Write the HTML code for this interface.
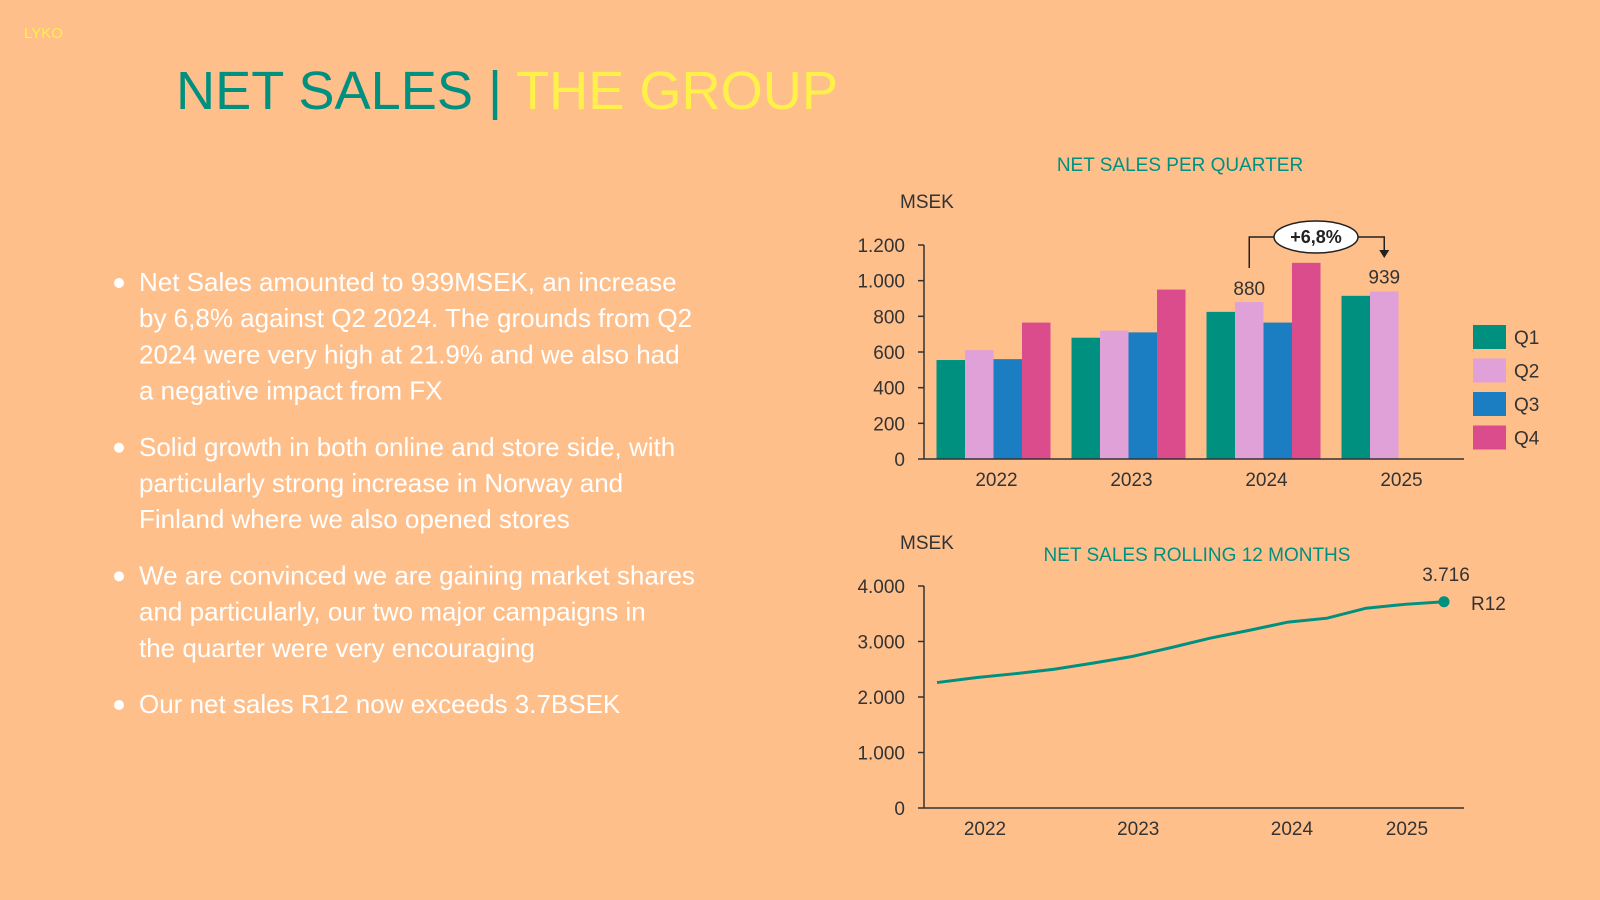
<!DOCTYPE html>
<html><head><meta charset="utf-8"><style>
html,body{margin:0;padding:0;background:#FFBF8B;width:1600px;height:900px;overflow:hidden}
svg{display:block;font-family:"Liberation Sans",sans-serif}
</style></head><body>
<svg id="s" width="1600" height="900" viewBox="0 0 1600 900">
<rect width="1600" height="900" fill="#FFBF8B"/>
<text x="24" y="38" font-size="15" fill="#FFF04A">LYKO</text>
<text x="176" y="109" font-size="54" textLength="662" lengthAdjust="spacingAndGlyphs"><tspan fill="#009080">NET SALES | </tspan><tspan fill="#FFF04A">THE GROUP</tspan></text>
<g id="bullets" font-size="26" fill="#fff"></g>
<text x="1180" y="171" font-size="19" fill="#009080" text-anchor="middle">NET SALES PER QUARTER</text>
<text x="900" y="208" font-size="19" fill="#333">MSEK</text>
<g id="bar"></g>
<text x="900" y="549" font-size="19" fill="#333">MSEK</text>
<text x="1197" y="561" font-size="19" fill="#009080" text-anchor="middle">NET SALES ROLLING 12 MONTHS</text>
<g id="line"></g>
</svg>
<script>
const bullets=[["Net Sales amounted to 939MSEK, an increase","by 6,8% against Q2 2024. The grounds from Q2","2024 were very high at 21.9% and we also had","a negative impact from FX"],["Solid growth in both online and store side, with","particularly strong increase in Norway and","Finland where we also opened stores"],["We are convinced we are gaining market shares","and particularly, our two major campaigns in","the quarter were very encouraging"],["Our net sales R12  now exceeds 3.7BSEK"]];
const years=["2022","2023","2024","2025"];
const q1=[555,680,825,915];
const q2=[610,720,880,939];
const q3=[560,710,765,null];
const q4=[765,950,1100,null];
const barTicks=[0,200,400,600,800,1000,1200];
const barTickLabels=["0","200","400","600","800","1.000","1.200"];
const r12=[2260,2350,2420,2500,2610,2730,2890,3060,3200,3350,3420,3600,3670,3716];
const lineYears=["2022","2023","2024","2025"];
const lineYearIdx=[1.23,5.16,9.1,12.05];
const lineTicks=[0,1000,2000,3000,4000];
const lineTickLabels=["0","1.000","2.000","3.000","4.000"];
const NS="http://www.w3.org/2000/svg";
function mk(p,t,a,txt){const e=document.createElementNS(NS,t);for(const k in a)e.setAttribute(k,a[k]);if(txt!==undefined)e.textContent=txt;p.appendChild(e);return e;}
const bg=document.getElementById('bullets');let y=291;
bullets.forEach((b,i)=>{const d=mk(bg,'circle',{cx:119,cy:y-8,r:5,fill:'#fff'});


b.forEach(l=>{const t=mk(bg,'text',{x:139,y:y},l);


y+=36.2;});y+=20;});
const bgp=document.getElementById('bar');
const X0=924,X1=1464,Y0=459,YT=245;
const by=v=>Y0-(v/1200)*(Y0-YT);
const slot=(X1-X0)/4;
barTicks.forEach((v,i)=>{const t=mk(bgp,'text',{x:905,y:by(v)+7,'font-size':19,fill:'#333','text-anchor':'end'},barTickLabels[i]);


mk(bgp,'line',{x1:X0-6,x2:X0,y1:by(v),y2:by(v),stroke:'#333','stroke-width':1.5});});
mk(bgp,'line',{x1:X0,x2:X0,y1:YT,y2:Y0,stroke:'#333','stroke-width':1.5});
const series=[q1,q2,q3,q4],cols=['#009080','#E0A0D8','#1B7EC2','#DB4C8C'];
const bw=28.5;
years.forEach((yr,g)=>{const c=X0+slot*(g+0.5)+2;
series.forEach((s,k)=>{if(s[g]==null)return;const r=mk(bgp,'rect',{x:c-2*bw+k*bw,y:by(s[g]),width:bw,height:Y0-by(s[g]),fill:cols[k]});

});
const t=mk(bgp,'text',{x:c+3,y:486,'font-size':19,fill:'#333','text-anchor':'middle'},yr);

});
mk(bgp,'line',{x1:X0,x2:X1,y1:Y0,y2:Y0,stroke:'#333','stroke-width':1.5});
const c24=X0+slot*2.5+2,c25=X0+slot*3.5+2;
const l1=mk(bgp,'text',{x:c24-bw/2,y:by(q2[2])-7,'font-size':19,fill:'#333','text-anchor':'middle'},String(q2[2]));


const l2=mk(bgp,'text',{x:c25-bw/2,y:by(q2[3])-8,'font-size':19,fill:'#333','text-anchor':'middle'},String(q2[3]));


mk(bgp,'polyline',{points:`${c24-bw/2},268 ${c24-bw/2},237 ${c25-bw/2},237 ${c25-bw/2},252`,fill:'none',stroke:'#222','stroke-width':1.5});
mk(bgp,'polygon',{points:`${c25-bw/2-5},250 ${c25-bw/2+5},250 ${c25-bw/2},258`,fill:'#222'});
const ell=mk(bgp,'ellipse',{cx:1316,cy:237,rx:42,ry:16,fill:'#fff',stroke:'#222','stroke-width':1.5});


mk(bgp,'text',{x:1316,y:243,'font-size':18,'font-weight':'bold',fill:'#222','text-anchor':'middle'},'+6,8%');
['Q1','Q2','Q3','Q4'].forEach((q,k)=>{const yy=325+k*33.5;
const r=mk(bgp,'rect',{x:1473,y:yy,width:33,height:24,fill:cols[k]});


const t=mk(bgp,'text',{x:1514,y:yy+19,'font-size':19,fill:'#333'},q);

});
const lg=document.getElementById('line');
const LY0=808,LYT=586,LX0=937,LX1=1444;
const ly=v=>LY0-(v/4000)*(LY0-LYT);
const lx=i=>LX0+i*(LX1-LX0)/(r12.length-1);
lineTicks.forEach((v,i)=>{const t=mk(lg,'text',{x:905,y:ly(v)+7,'font-size':19,fill:'#333','text-anchor':'end'},lineTickLabels[i]);


mk(lg,'line',{x1:X0-6,x2:X0,y1:ly(v),y2:ly(v),stroke:'#333','stroke-width':1.5});});
mk(lg,'line',{x1:X0,x2:X0,y1:LYT,y2:LY0,stroke:'#333','stroke-width':1.5});
mk(lg,'line',{x1:X0,x2:X1,y1:LY0,y2:LY0,stroke:'#333','stroke-width':1.5});
lineYears.forEach((yr,i)=>{const t=mk(lg,'text',{x:lx(lineYearIdx[i]),y:835,'font-size':19,fill:'#333','text-anchor':'middle'},yr);

});
const pl=mk(lg,'polyline',{points:r12.map((v,i)=>lx(i)+','+ly(v)).join(' '),fill:'none',stroke:'#009080','stroke-width':3});


const last=r12.length-1;
const dot=mk(lg,'circle',{cx:lx(last),cy:ly(r12[last]),r:5.5,fill:'#009080'});


const vl=mk(lg,'text',{x:lx(last)+2,y:ly(r12[last])-21,'font-size':19,fill:'#333','text-anchor':'middle'},'3.716');


const rl=mk(lg,'text',{x:lx(last)+27,y:ly(r12[last])+8,'font-size':19,fill:'#333'},'R12');


</script>
</body></html>
